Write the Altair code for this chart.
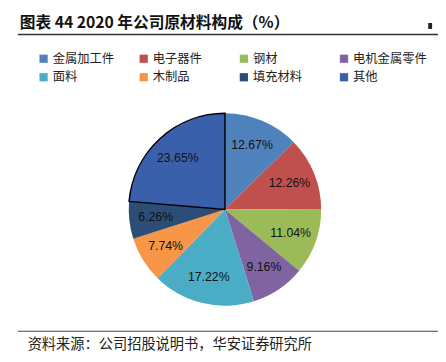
import altair as alt
import pandas as pd

categories = ["金属加工件", "电子器件", "钢材", "电机金属零件", "面料", "木制品", "填充材料", "其他"]
values = [12.67, 12.26, 11.04, 9.16, 17.22, 7.74, 6.26, 23.65]
colors = ["#4F81BD", "#C0504D", "#9BBB59", "#8064A2", "#4BACC6", "#F79646", "#2C4D75", "#3A60AB"]
title_text = "图表 44 2020 年公司原材料构成（%）"
source_text = "资料来源：公司招股说明书，华安证券研究所"

df = pd.DataFrame({
    "cat": categories,
    "val": values,
    "idx": list(range(len(categories))),
    "label": [f"{v:.2f}%" for v in values],
})

CX, CY = 221, 202
R = 98

base = alt.Chart(df).encode(
    theta=alt.Theta("val:Q", stack=True),
    order=alt.Order("idx:Q"),
    x=alt.value(CX),
    y=alt.value(CY),
)

pie = base.mark_arc(outerRadius=R).encode(
    color=alt.Color(
        "cat:N",
        scale=alt.Scale(domain=categories, range=colors),
        sort=categories,
        legend=alt.Legend(
            title=None,
            orient="none",
            legendX=30,
            legendY=42,
            columns=4,
            direction="horizontal",
            gridAlign="all",
            columnPadding=11,
            rowPadding=6,
            symbolType="square",
            symbolSize=70,
            symbolStrokeWidth=0,
            labelFont="Noto Sans CJK SC",
            labelFontSize=12.5,
            labelColor="#222222",
            labelOffset=3,
            labelLimit=200,
        ),
    ),
    stroke=alt.condition(alt.datum.cat == "其他", alt.value("#000000"), alt.value("#ffffff")),
    strokeWidth=alt.condition(alt.datum.cat == "其他", alt.value(1.5), alt.value(0)),
)

labels = base.mark_text(
    radius=71, font="Liberation Sans", fontSize=12.5, color="#111111"
).encode(text="label:N")

deco = pd.DataFrame({"t": [title_text], "s": [source_text]})

title = alt.Chart(deco).mark_text(
    align="left", baseline="middle", font="Noto Sans CJK SC", fontSize=16, fontWeight="bold", color="#111111"
).encode(text="t:N", x=alt.value(12), y=alt.value(12.5))

source = alt.Chart(deco).mark_text(
    align="left", baseline="middle", font="Noto Sans CJK SC", fontSize=14.5, color="#222222"
).encode(text="s:N", x=alt.value(20), y=alt.value(340))

top_rule = alt.Chart(deco).mark_rule(color="#333333", strokeWidth=1.5).encode(
    x=alt.value(10), x2=alt.value(438), y=alt.value(23.7)
)
bottom_rule = alt.Chart(deco).mark_rule(color="#444444", strokeWidth=1.2).encode(
    x=alt.value(10), x2=alt.value(438), y=alt.value(326)
)
corner = alt.Chart(deco).mark_rule(color="#222222", strokeWidth=4).encode(
    x=alt.value(430), y=alt.value(12), y2=alt.value(18)
)

chart = alt.layer(pie, labels, title, source, top_rule, bottom_rule, corner).properties(
    width=438,
    height=354,
    autosize=alt.AutoSizeParams(type="none"),
    padding=0,
).configure_view(stroke=None)

chart.save("out.html", embed_options={"renderer": "svg", "actions": False})
